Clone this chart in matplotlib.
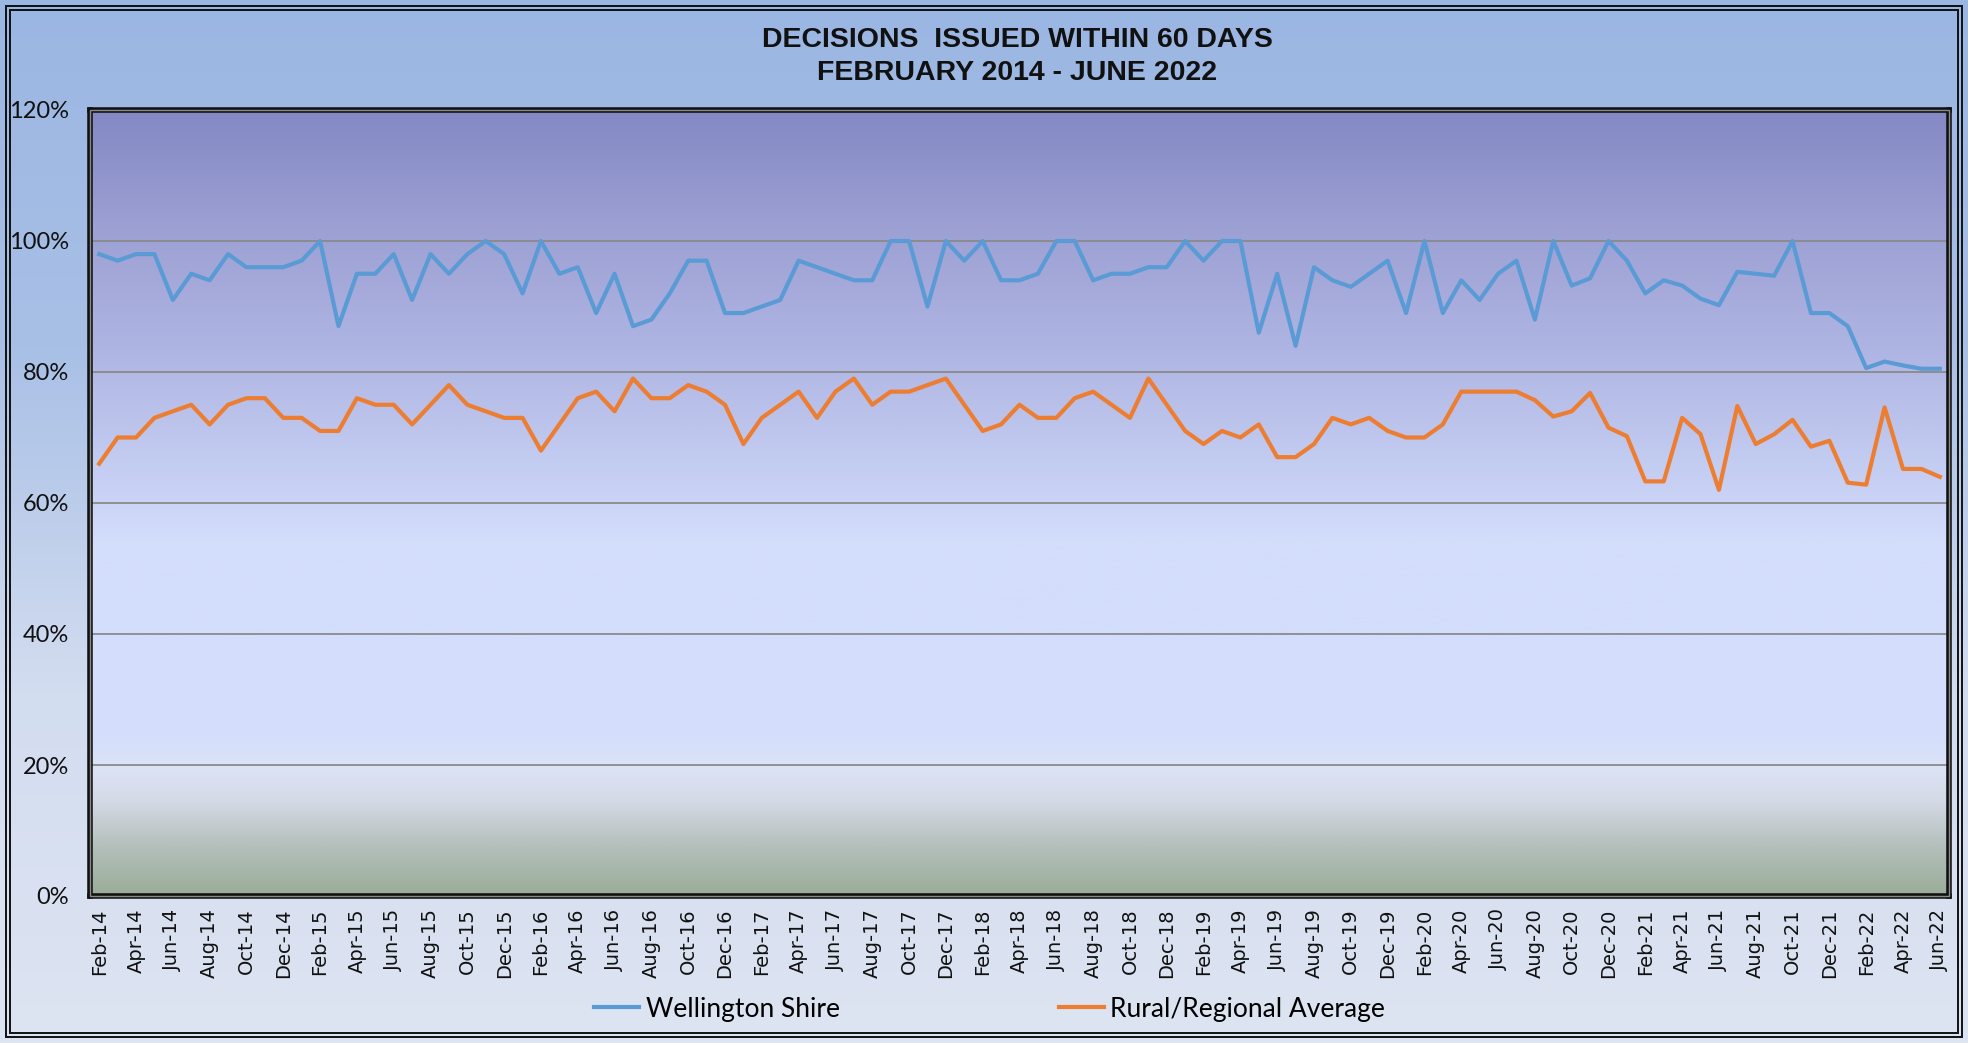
import numpy as np
import pandas as pd
import matplotlib
matplotlib.use("Agg")
import matplotlib.pyplot as plt
from matplotlib.colors import LinearSegmentedColormap
from matplotlib.patches import Rectangle

# monthly categories Feb-14 .. Jun-22
months = pd.date_range("2014-02-01", "2022-06-01", freq="MS").strftime("%b-%y").tolist()

# % of decisions issued within 60 days
wellington = [98, 97, 98, 98, 91, 95, 94, 98, 96, 96, 96, 97,
              100, 87, 95, 95, 98, 91, 98, 95, 98, 100, 98, 92,
              100, 95, 96, 89, 95, 87, 88, 92, 97, 97, 89, 89,
              90, 91, 97, 96, 95, 94, 94, 100, 100, 90, 100, 97,
              100, 94, 94, 95, 100, 100, 94, 95, 95, 96, 96, 100,
              97, 100, 100, 86, 95, 84, 96, 94, 93, 95, 97, 89,
              100, 89, 94, 91, 95, 97, 88, 100, 93.2, 94.3, 100, 97,
              92, 94, 93.2, 91.2, 90.2, 95.3, 95, 94.7, 100, 89, 89, 87,
              80.6, 81.6, 81, 80.5, 80.5]
rural_avg = [66, 70, 70, 73, 74, 75, 72, 75, 76, 76, 73, 73,
             71, 71, 76, 75, 75, 72, 75, 78, 75, 74, 73, 73,
             68, 72, 76, 77, 74, 79, 76, 76, 78, 77, 75, 69,
             73, 75, 77, 73, 77, 79, 75, 77, 77, 78, 79, 75,
             71, 72, 75, 73, 73, 76, 77, 75, 73, 79, 75, 71,
             69, 71, 70, 72, 67, 67, 69, 73, 72, 73, 71, 70,
             70, 72, 77, 77, 77, 77, 75.7, 73.2, 74, 76.8, 71.5, 70.2,
             63.3, 63.3, 73, 70.5, 62, 74.8, 69, 70.5, 72.7, 68.6, 69.5, 63.1,
             62.8, 74.6, 65.2, 65.2, 64]

yticks = [0, 20, 40, 60, 80, 100, 120]

W, H = 1968, 1043
fig = plt.figure(figsize=(W / 100, H / 100), dpi=100)

# figure background gradient
bg = fig.add_axes([0, 0, 1, 1], zorder=-10)
bg_cmap = LinearSegmentedColormap.from_list("bg", ["#DDE4F2", "#D3DDF0", "#A9C0E6", "#9AB6E2"])
bg.imshow(np.linspace(0, 1, 256)[:, None], aspect="auto", cmap=bg_cmap,
          origin="lower", extent=[0, 1, 0, 1])
bg.set_axis_off()

# double frame round the whole chart
for inset in (6, 10):
    fig.patches.append(Rectangle((inset / W, inset / H), 1 - 2 * inset / W, 1 - 2 * inset / H,
                                 transform=fig.transFigure, fill=False,
                                 edgecolor="#111111", lw=1.4))

ax = fig.add_axes([90 / W, 1 - 896 / H, (1949 - 90) / W, (896 - 110) / H])

x = np.arange(len(months))

# plot area gradient
plot_cmap = LinearSegmentedColormap.from_list("plot", [
    (0.0, "#9AAD98"), (0.06, "#B3BFBA"), (0.12, "#D4DAE6"), (0.16, "#DCE3F6"),
    (0.2, "#D5DFFC"), (0.45, "#D3DDFC"), (0.55, "#C3CCF1"), (0.7, "#AEB4E2"),
    (0.85, "#9CA0D3"), (1.0, "#8488C4")])
ax.imshow(np.linspace(0, 1, 512)[:, None], aspect="auto", cmap=plot_cmap,
          origin="lower", extent=[-0.5, len(months) - 0.5, 0, 120], zorder=0)

for yv in yticks[1:-1]:
    ax.axhline(yv, color="#8A8A8A", lw=1.3, zorder=1)

ax.plot(x, wellington, color="#5B9BD5", lw=3, label="Wellington Shire", zorder=3)
ax.plot(x, rural_avg, color="#ED7D31", lw=3, label="Rural/Regional Average", zorder=3)

ax.set_xlim(-0.5, len(months) - 0.5)
ax.set_ylim(0, 120)
ax.set_yticks(yticks)
ax.set_yticklabels([f"{v}%" for v in yticks], fontsize=17, family="Lato", color="#111111")
ax.set_xticks(x[::2])
ax.set_xticklabels(months[::2], rotation=90, fontsize=14, family="DejaVu Sans", color="#111111")
ax.tick_params(axis="y", length=0, pad=15)
ax.tick_params(axis="x", length=0, pad=9)

for sp in ax.spines.values():
    sp.set_linewidth(4)
    sp.set_color("#111111")
ax.add_patch(Rectangle((0, 0), 1, 1, transform=ax.transAxes, fill=False,
                       edgecolor="#8A8A8A", lw=1.0, clip_on=False, zorder=6))

fig.text(0.517, 1 - 40 / H, "DECISIONS  ISSUED WITHIN 60 DAYS", ha="center", va="center",
         fontsize=20.5, fontweight="bold", family="Liberation Sans", color="#111111")
fig.text(0.517, 1 - 73 / H, "FEBRUARY 2014 - JUNE 2022", ha="center", va="center",
         fontsize=20.5, fontweight="bold", family="Liberation Sans", color="#111111")

fig.legend(loc="center", bbox_to_anchor=(0.503, 34 / H), ncol=2, frameon=False,
           prop={"family": "Lato", "size": 19}, columnspacing=8.3, handlelength=1.7,
           handletextpad=0.25)

fig.savefig("out.png", dpi=100)
